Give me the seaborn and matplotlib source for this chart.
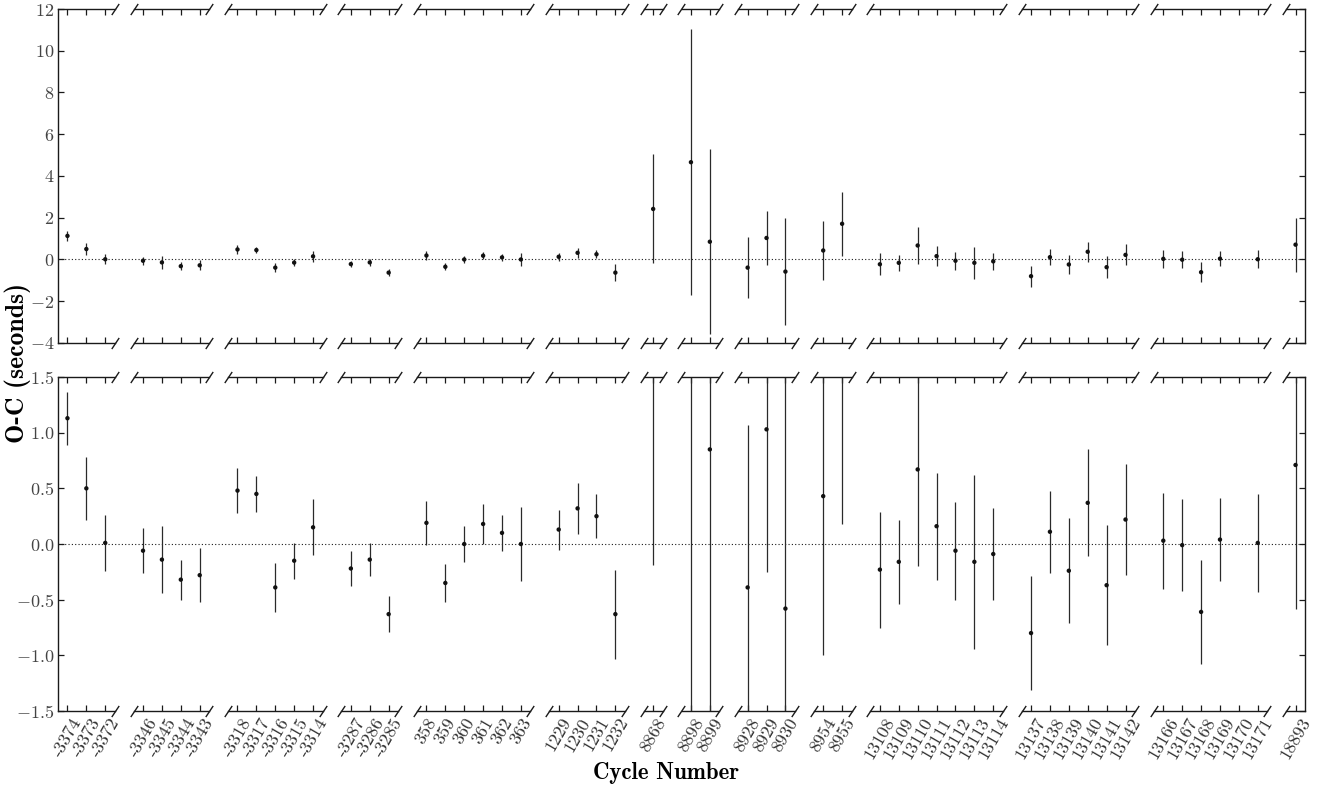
import matplotlib
matplotlib.use("Agg")
import matplotlib.pyplot as plt
import seaborn as sns
import numpy as np
import pandas as pd

# Observed-minus-calculated transit timing residuals
cycles = [-3374, -3373, -3372,
          -3346, -3345, -3344, -3343,
          -3318, -3317, -3316, -3315, -3314,
          -3287, -3286, -3285,
          358, 359, 360, 361, 362, 363,
          1229, 1230, 1231, 1232,
          8868,
          8898, 8899,
          8928, 8929, 8930,
          8954, 8955,
          13108, 13109, 13110, 13111, 13112, 13113, 13114,
          13137, 13138, 13139, 13140, 13141, 13142,
          13166, 13167, 13168, 13169, 13171,
          18893]
oc = [1.13, 0.50, 0.01,
      -0.06, -0.14, -0.32, -0.28,
      0.48, 0.45, -0.39, -0.15, 0.15,
      -0.22, -0.14, -0.63,
      0.19, -0.35, 0.00, 0.18, 0.10, 0.00,
      0.13, 0.32, 0.25, -0.63,
      2.42,
      4.66, 0.85,
      -0.39, 1.03, -0.58,
      0.43, 1.71,
      -0.23, -0.16, 0.67, 0.16, -0.06, -0.16, -0.09,
      -0.80, 0.11, -0.24, 0.37, -0.37, 0.22,
      0.03, -0.01, -0.61, 0.04, 0.01,
      0.71]
oc_err = [0.24, 0.28, 0.25,
          0.20, 0.30, 0.18, 0.24,
          0.20, 0.16, 0.22, 0.16, 0.25,
          0.16, 0.15, 0.16,
          0.20, 0.17, 0.16, 0.18, 0.16, 0.33,
          0.18, 0.23, 0.20, 0.40,
          2.61,
          6.37, 4.42,
          1.46, 1.28, 2.55,
          1.43, 1.53,
          0.52, 0.38, 0.87, 0.48, 0.44, 0.78, 0.41,
          0.51, 0.37, 0.47, 0.48, 0.54, 0.50,
          0.43, 0.41, 0.47, 0.37, 0.44,
          1.29]

# Cycle ranges shown in each broken-axis segment
segments = [(-3374, -3372), (-3346, -3343), (-3318, -3314), (-3287, -3285),
            (358, 363), (1229, 1232), (8868, 8868), (8898, 8899),
            (8928, 8930), (8954, 8955), (13108, 13114), (13137, 13142),
            (13166, 13171), (18893, 18893)]

# Vertical ranges: full view and zoomed view
ylims = [(-4, 12), (-1.5, 1.5)]
yticks = [np.arange(-4, 12.1, 2), np.arange(-1.5, 1.51, 0.5)]

df = pd.DataFrame({"cycle": cycles, "oc": oc, "err": oc_err})

sns.set_theme(style="ticks")
plt.rcParams["font.family"] = ["cmr10", "DejaVu Serif"]
plt.rcParams["mathtext.fontset"] = "cm"
plt.rcParams["axes.formatter.use_mathtext"] = True
plt.rcParams["axes.unicode_minus"] = True

ink = "#1a1a1a"
fig = plt.figure(figsize=(13.22, 7.88), dpi=100)
widths = [b - a + 1 for a, b in segments]
nseg = len(segments)
gs = fig.add_gridspec(2, nseg, width_ratios=widths,
                      left=58 / 1322, right=1305 / 1322,
                      top=1 - 9 / 788, bottom=1 - 711 / 788,
                      wspace=nseg / sum(widths), hspace=0.102)

slash = dict(marker=[(-1, -1.5), (1, 1.5)], markersize=8, linestyle="none",
             color=ink, mec=ink, mew=1.0, clip_on=False)

for r in range(2):
    # full-width backdrop carrying the zero reference line across the breaks
    bg = fig.add_subplot(gs[r, :])
    bg.set_ylim(*ylims[r])
    bg.axhline(0, ls=(0, (1, 2)), color=ink, lw=0.8)
    bg.set_axis_off()
    bg.set_zorder(0)

    for j, (a, b) in enumerate(segments):
        ax = fig.add_subplot(gs[r, j])
        ax.set_zorder(1)
        ax.patch.set_alpha(0)
        sub = df[(df.cycle >= a) & (df.cycle <= b)]
        ax.errorbar(sub.cycle, sub.oc, yerr=sub.err, fmt="none",
                    ecolor="#2a2a2a", elinewidth=0.9, capsize=0, zorder=2)
        sns.scatterplot(data=sub, x="cycle", y="oc", ax=ax, color="#111111",
                        s=10, edgecolor="none", zorder=3, legend=False)
        ax.set_xlim(a - 0.5, b + 0.5)
        ax.set_ylim(*ylims[r])
        ax.set_yticks(yticks[r])
        ax.set_xticks(range(a, b + 1))
        ax.set_xlabel("")
        ax.set_ylabel("")
        for s in ax.spines.values():
            s.set_linewidth(1.0)
            s.set_color(ink)
        ax.spines["left"].set_visible(j == 0)
        ax.spines["right"].set_visible(j == nseg - 1)
        ax.tick_params(axis="x", direction="in", top=True, bottom=True,
                       length=4, width=0.9, color=ink,
                       labelbottom=(r == 1), labelsize=13,
                       labelcolor="#333333", pad=3)
        if r == 1:
            ax.set_xticklabels([str(c) for c in range(a, b + 1)], rotation=60)
        ax.tick_params(axis="y", direction="in", length=4, width=0.9,
                       color=ink, labelsize=13, labelcolor="#444444",
                       left=(j == 0), labelleft=(j == 0),
                       right=(j == nseg - 1), labelright=False, pad=2.5)
        if j > 0:
            ax.plot([0, 0], [0, 1], transform=ax.transAxes, **slash)
        if j < nseg - 1:
            ax.plot([1, 1], [0, 1], transform=ax.transAxes, **slash)

fig.text(18 / 1322, 1 - 363 / 788, "O-C (seconds)", rotation=90,
         ha="center", va="center", fontsize=18.5,
         family=["cmb10", "DejaVu Serif"], color="black")
fig.text(666 / 1322, 1 - 773 / 788, "Cycle Number", ha="center", va="center",
         fontsize=16.5, family=["cmb10", "DejaVu Serif"], color="black")

fig.savefig("out.png", dpi=100)
